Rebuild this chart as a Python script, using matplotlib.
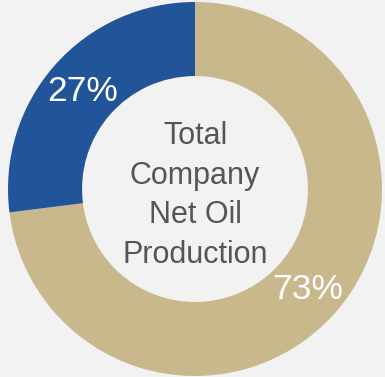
import matplotlib
matplotlib.use("Agg")
import matplotlib.pyplot as plt
import numpy as np

# Share of total company net oil production
segments = ["Other", "Highlighted"]
shares = [73, 27]
labels = ["73%", "27%"]
colors = ["#C9B88C", "#22549A"]
center_text = "Total\nCompany\nNet Oil\nProduction"

W, H, DPI = 385, 377, 100
fig = plt.figure(figsize=(W / DPI, H / DPI), dpi=DPI, facecolor="#F2F2F2")
ax = fig.add_axes([0, 0, 1, 1])
ax.set_facecolor("#F2F2F2")

# pixel layout of the ring
cx, cy_top, R = 195, 189, 187
cy = H - cy_top
ring_width = 0.396

wedges, _ = ax.pie(shares, colors=colors, startangle=90, counterclock=False,
                   radius=1, wedgeprops=dict(width=ring_width, linewidth=0))

mid_r = 1 - ring_width / 2
for w, lab in zip(wedges, labels):
    ang = np.deg2rad((w.theta1 + w.theta2) / 2)
    ax.text(mid_r * np.cos(ang), mid_r * np.sin(ang) - 0.008, lab, color="white",
            fontsize=25.5, family=["Liberation Sans", "DejaVu Sans"],
            ha="center", va="center")

ax.text(0, -0.035, center_text, color="#555555",
        fontsize=22, family=["Liberation Sans", "DejaVu Sans"],
        ha="center", va="center", linespacing=1.42)

ax.set_xlim(-cx / R, (W - cx) / R)
ax.set_ylim(-cy / R, (H - cy) / R)
ax.set_aspect("auto")
ax.axis("off")

fig.savefig("out.png", dpi=DPI, facecolor=fig.get_facecolor())
